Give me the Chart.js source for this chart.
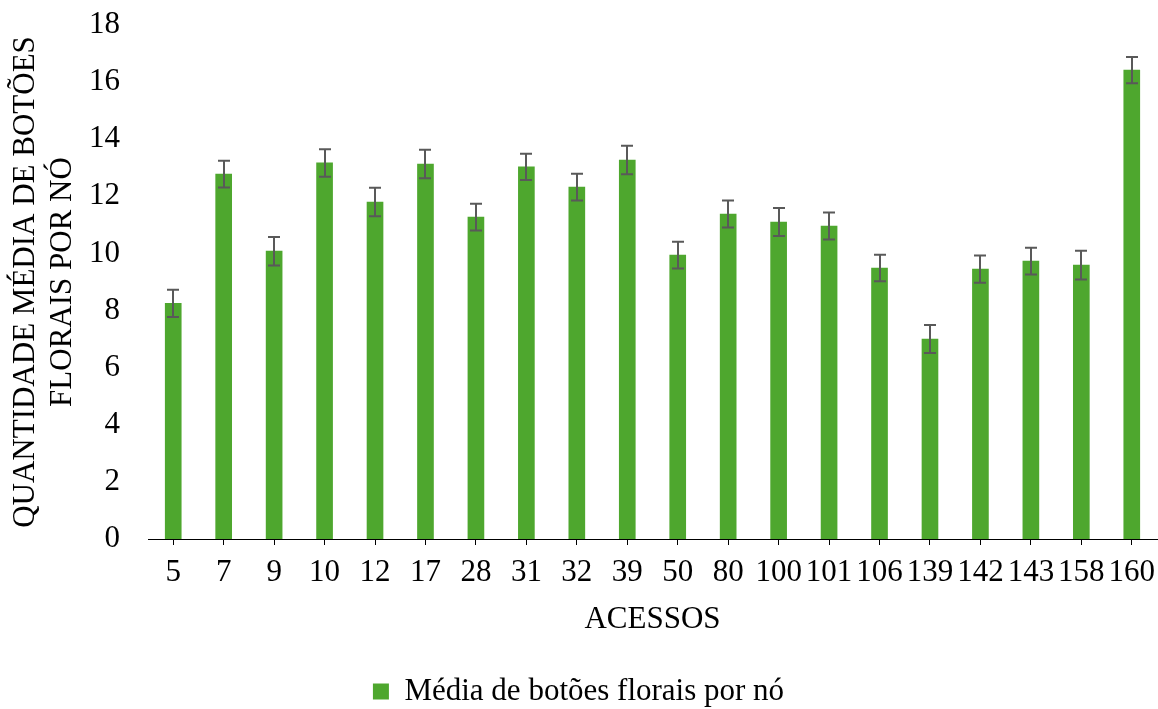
<!DOCTYPE html>
<html>
<head>
<meta charset="utf-8">
<script src="https://cdn.jsdelivr.net/npm/chart.js@4/dist/chart.umd.min.js"></script>
<style>
  html, body { margin: 0; padding: 0; background: #fff; }
  #wrap { width: 1158px; height: 709px; position: relative; overflow: hidden; }
</style>
</head>
<body>
<div id="wrap"><canvas id="c" width="1158" height="709"></canvas></div>
<script>
const categories = ['5','7','9','10','12','17','28','31','32','39','50','80','100','101','106','139','142','143','158','160'];
const means = [8.25, 12.78, 10.08, 13.17, 11.8, 13.13, 11.27, 13.03, 12.32, 13.27, 9.94, 11.38, 11.1, 10.96, 9.49, 7.0, 9.45, 9.73, 9.59, 16.42];
const errors = [0.48, 0.47, 0.5, 0.48, 0.5, 0.5, 0.47, 0.46, 0.47, 0.5, 0.47, 0.47, 0.49, 0.47, 0.46, 0.49, 0.48, 0.47, 0.5, 0.46];
const yTicks = [0, 2, 4, 6, 8, 10, 12, 14, 16, 18];
const seriesName = 'Média de botões florais por nó';
const yTitle = ['QUANTIDADE MÉDIA DE BOTÕES', 'FLORAIS POR NÓ'];
const xTitle = 'ACESSOS';

const FONT = '"Liberation Serif", "Times New Roman", serif';
const GREEN = '#4EA72E';
const FS = 31;

const errorBars = {
  id: 'errorBars',
  afterDatasetsDraw(chart) {
    const ctx = chart.ctx;
    const y = chart.scales.y;
    const meta = chart.getDatasetMeta(0);
    ctx.save();
    ctx.strokeStyle = '#595959';
    ctx.lineWidth = 2;
    meta.data.forEach((bar, i) => {
      const x = Math.round(bar.x);
      const top = y.getPixelForValue(means[i] + errors[i]);
      const bot = y.getPixelForValue(means[i] - errors[i]);
      ctx.beginPath();
      ctx.moveTo(x, top); ctx.lineTo(x, bot);
      ctx.moveTo(x - 6, top); ctx.lineTo(x + 6, top);
      ctx.moveTo(x - 6, bot); ctx.lineTo(x + 6, bot);
      ctx.stroke();
    });
    ctx.restore();
  }
};

new Chart(document.getElementById('c'), {
  type: 'bar',
  data: {
    labels: categories,
    datasets: [{
      label: seriesName,
      data: means,
      backgroundColor: GREEN,
      borderWidth: 0,
      barThickness: 16
    }]
  },
  options: {
    responsive: false,
    animation: false,
    devicePixelRatio: 1,
    layout: { padding: { top: 25, right: 1, bottom: -8, left: 0 } },
    plugins: {
      legend: {
        position: 'bottom',
        labels: {
          font: { family: FONT, size: FS },
          color: '#000',
          boxWidth: 16,
          boxHeight: 16,
          padding: 2
        }
      },
      tooltip: { enabled: false }
    },
    scales: {
      x: {
        grid: { display: true, drawOnChartArea: false, drawTicks: true, tickLength: 6, offset: false, color: '#000', lineWidth: 1 },
        border: { display: true, color: '#000', width: 1 },
        ticks: { font: { family: FONT, size: FS }, color: '#000', autoSkip: false, maxRotation: 0, minRotation: 0, padding: 9 },
        title: { display: true, text: xTitle, font: { family: FONT, size: FS }, color: '#000', padding: { top: 0, bottom: 36 } },
        afterFit(scale) { scale.height = 135; scale.paddingLeft = 0; scale.paddingRight = 0; }
      },
      y: {
        min: 0, max: 18,
        afterBuildTicks(scale) { scale.ticks = yTicks.map(v => ({ value: v })); },
        grid: { display: false, drawTicks: false },
        border: { display: false },
        ticks: { font: { family: FONT, size: FS }, color: '#000', padding: 28 },
        title: { display: true, text: yTitle, font: { family: FONT, size: FS, lineHeight: 1.2 }, color: '#000', padding: { top: 7, bottom: 0 } },
        afterFit(scale) { scale.width = 148; scale.paddingTop = 0; scale.paddingBottom = 0; }
      }
    }
  },
  plugins: [errorBars]
});
</script>
</body>
</html>
